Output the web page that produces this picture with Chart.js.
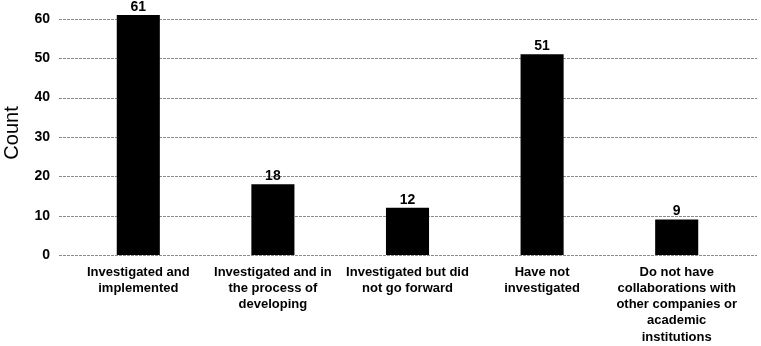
<!DOCTYPE html>
<html>
<head>
<meta charset="utf-8">
<script src="https://cdn.jsdelivr.net/npm/chart.js@4.4.0/dist/chart.umd.min.js"></script>
<style>
  html, body { margin: 0; padding: 0; background: #fff; }
  #wrap { width: 761px; height: 346px; }
</style>
</head>
<body>
<div id="wrap"><canvas id="myChart"></canvas></div>
<script>
// Data
const categories = [
    ['Investigated and', 'implemented'],
    ['Investigated and in', 'the process of', 'developing'],
    ['Investigated but did', 'not go forward'],
    ['Have not', 'investigated'],
    ['Do not have', 'collaborations with', 'other companies or', 'academic', 'institutions']
];
const counts = [61, 18, 12, 51, 9];
const yTicks = [0, 10, 20, 30, 40, 50, 60];

const fontFamily = '"Liberation Sans", Arial, sans-serif';

// dashed grid lines, drawn a bit wider than the bar area like the original
const gridPlugin = {
    id: 'wideGrid',
    beforeDatasetsDraw(chart) {
        const ctx = chart.ctx;
        const area = chart.chartArea;
        const y = chart.scales.y;
        ctx.save();
        ctx.strokeStyle = '#8a8a8a';
        ctx.lineWidth = 1;
        ctx.setLineDash([3, 1]);
        yTicks.forEach(function(v) {
            const py = Math.round(y.getPixelForValue(v)) + 0.5;
            ctx.beginPath();
            ctx.moveTo(area.left - 12, py);
            ctx.lineTo(area.right + 13, py);
            ctx.stroke();
        });
        ctx.restore();
    }
};

// value labels above bars
const valueLabels = {
    id: 'valueLabels',
    afterDatasetsDraw(chart) {
        const ctx = chart.ctx;
        const meta = chart.getDatasetMeta(0);
        ctx.save();
        ctx.font = 'bold 14px ' + fontFamily;
        ctx.fillStyle = '#000';
        ctx.textAlign = 'center';
        ctx.textBaseline = 'bottom';
        meta.data.forEach(function(bar, i) {
            ctx.fillText(String(counts[i]), bar.x, bar.y - 1);
        });
        ctx.restore();
    }
};

const ctx = document.getElementById('myChart').getContext('2d');
const myChart = new Chart(ctx, {
    type: 'bar',
    data: {
        labels: categories,
        datasets: [{
            data: counts,
            backgroundColor: '#000',
            borderWidth: 0,
            barPercentage: 1,
            categoryPercentage: 0.32
        }]
    },
    options: {
        responsive: true,
        maintainAspectRatio: false,
        animation: false,
        layout: { padding: { left: 0, right: 17, top: 11, bottom: 0 } },
        plugins: {
            legend: { display: false },
            tooltip: { enabled: false }
        },
        scales: {
            x: {
                afterFit(scale) {
                    scale.height = 91;
                    scale.paddingLeft = 0;
                    scale.paddingRight = 0;
                },
                grid: { display: false, drawTicks: false },
                border: { display: false },
                ticks: {
                    color: '#000',
                    font: { family: fontFamily, size: 13, weight: 'bold', lineHeight: 1.25 },
                    maxRotation: 0,
                    autoSkip: false,
                    padding: 9
                }
            },
            y: {
                min: 0,
                max: 62,
                afterBuildTicks(scale) {
                    scale.ticks = yTicks.map(function(v) { return { value: v }; });
                },
                afterFit(scale) {
                    scale.width = 71;
                    scale.paddingTop = 0;
                    scale.paddingBottom = 0;
                },
                grid: { display: false, drawTicks: false },
                border: { display: false },
                title: {
                    display: true,
                    text: 'Count',
                    color: '#000',
                    font: { family: fontFamily, size: 20 },
                    padding: { top: 0, bottom: 0 }
                },
                ticks: {
                    color: '#000',
                    font: { family: fontFamily, size: 14, weight: 'bold' },
                    padding: 21
                }
            }
        }
    },
    plugins: [gridPlugin, valueLabels]
});
</script>
</body>
</html>
